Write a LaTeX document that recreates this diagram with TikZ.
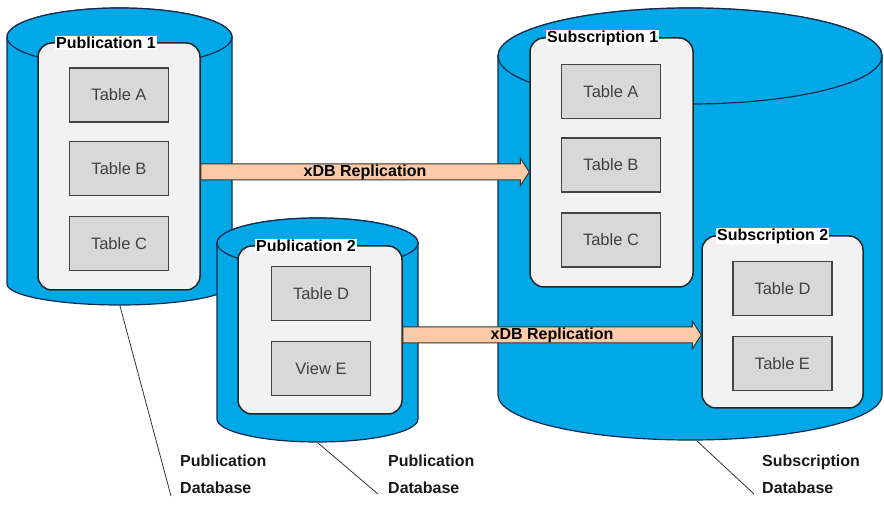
\documentclass[tikz,border=0pt]{standalone}
\usepackage{fontspec}
\setmainfont{Liberation Sans}
\usepackage{tikz}
\usetikzlibrary{calc}
\definecolor{DbBlue}{RGB}{0, 168, 232}
\definecolor{DbEdge}{RGB}{20, 42, 78}
\definecolor{BoxFill}{RGB}{242, 242, 242}
\definecolor{TableFill}{RGB}{216, 216, 216}
\definecolor{TableEdge}{RGB}{68, 68, 68}
\definecolor{Peach}{RGB}{250, 203, 166}

\begin{document}
\begin{tikzpicture}[x=1pt, y=-1pt,
    db/.style = {fill = DbBlue, draw = DbEdge, line width = 1.2pt},
    pubbox/.style = {draw = black!85, fill = BoxFill, line width = 1.5pt, rounded corners = 14pt, inner sep = 0pt},
    boxtitle/.style = {fill = white, inner sep = 1pt, anchor = west, font = \fontsize{16}{18}\selectfont\bfseries},
    tbl/.style = {draw = TableEdge, fill = TableFill, line width = 1.5pt, minimum width = 99pt, minimum height = 54pt, inner sep = 0pt, text = black!75, font = \fontsize{16.5}{18}\selectfont},
    repl/.style = {draw = black!80, fill = Peach, line width = 1pt},
    repltext/.style = {inner sep = 0pt, font = \fontsize{16}{18}\selectfont\bfseries},
    dblabel/.style = {anchor = west, align = left, inner sep = 0pt, text = black!90, font = \fontsize{16}{27}\selectfont\bfseries},
    leader/.style = {draw = black!80, line width = 0.8pt}
]
    \useasboundingbox (0,0) rectangle (884,518);
    % Publication database 1
    \draw[db]
    (7,37) -- (7,284) arc[start angle=180, end angle=0, x radius=112.5, y radius=21]
    -- (232,37) arc[start angle=0, end angle=-180, x radius=112.5, y radius=29] -- cycle;
    \draw[db] (119.5,37) ellipse[x radius=112.5, y radius=29];
    \node[pubbox, minimum width=162pt, minimum height=247pt] (pub1box) at (119,166.5) {};
    \node[boxtitle] (pub1title) at (55,43) {Publication 1};
    \node[tbl] (p1ta) at (119,95) {Table A};
    \node[tbl] (p1tb) at (119,168.5) {Table B};
    \node[tbl] (p1tc) at (119,243.5) {Table C};
    % Publication database 2
    \draw[db]
    (217,243) -- (217,419) arc[start angle=180, end angle=0, x radius=100.5, y radius=23]
    -- (418,243) arc[start angle=0, end angle=-180, x radius=100.5, y radius=25] -- cycle;
    \draw[db] (317.5,243) ellipse[x radius=100.5, y radius=25];
    \node[pubbox, minimum width=164pt, minimum height=168pt] (pub2box) at (320,330) {};
    \node[boxtitle] (pub2title) at (255,246) {Publication 2};
    \node[tbl] (p2td) at (321,293.5) {Table D};
    \node[tbl] (p2ve) at (321,368.5) {View E};
    % Subscription database
    \draw[db]
    (498,56) -- (498,395) arc[start angle=180, end angle=0, x radius=192, y radius=45]
    -- (882,56) arc[start angle=0, end angle=-180, x radius=192, y radius=48] -- cycle;
    \draw[db] (690,56) ellipse[x radius=192, y radius=48];
    \node[pubbox, minimum width=163pt, minimum height=249pt] (sub1box) at (611.5,162.5) {};
    \node[boxtitle] (sub1title) at (546,38) {Subscription 1};
    \node[tbl] (s1ta) at (611,91.5) {Table A};
    \node[tbl] (s1tb) at (611,165) {Table B};
    \node[tbl] (s1tc) at (611,240) {Table C};
    \node[pubbox, minimum width=161pt, minimum height=172pt] (sub2box) at (782.5,322) {};
    \node[boxtitle] (sub2title) at (716,236) {Subscription 2};
    \node[tbl] (s2td) at (782.5,288.5) {Table D};
    \node[tbl] (s2te) at (782.5,363.5) {Table E};
    % Replication arrows
    \coordinate (r1s) at (pub1box.east |- 0,172);
    \coordinate (r1t) at (sub1box.west |- 0,172);
    \draw[repl]
    ($(r1s)+(0,-8)$) -- ($(r1t)+(-9,-8)$) -- ($(r1t)+(-9,-14)$) -- (r1t)
    -- ($(r1t)+(-9,14)$) -- ($(r1t)+(-9,8)$) -- ($(r1s)+(0,8)$) -- cycle;
    \node[repltext] (r1text) at ($(r1s)!0.5!(r1t)$) {xDB Replication};
    \coordinate (r2s) at (pub2box.east |- 0,335);
    \coordinate (r2t) at (sub2box.west |- 0,335);
    \draw[repl]
    ($(r2s)+(0,-8)$) -- ($(r2t)+(-9,-8)$) -- ($(r2t)+(-9,-14)$) -- (r2t)
    -- ($(r2t)+(-9,14)$) -- ($(r2t)+(-9,8)$) -- ($(r2s)+(0,8)$) -- cycle;
    \node[repltext] (r2text) at ($(r2s)!0.5!(r2t)$) {xDB Replication};
    % Database labels
    \node[dblabel] (pub1lbl) at (180,474) {Publication\\Database};
    \node[dblabel] (pub2lbl) at (388,474) {Publication\\Database};
    \node[dblabel] (sublbl) at (762,474) {Subscription\\Database};
    \coordinate (pub1foot) at (120,306);
    \coordinate (pub1end) at (171,496);
    \coordinate (pub2foot) at (318,443);
    \coordinate (pub2end) at (378,494);
    \coordinate (subfoot) at (697,441);
    \coordinate (subend) at (754,494);
    \draw[leader] (pub1foot) -- (pub1end);
    \draw[leader] (pub2foot) -- (pub2end);
    \draw[leader] (subfoot) -- (subend);
\end{tikzpicture}
\end{document}
